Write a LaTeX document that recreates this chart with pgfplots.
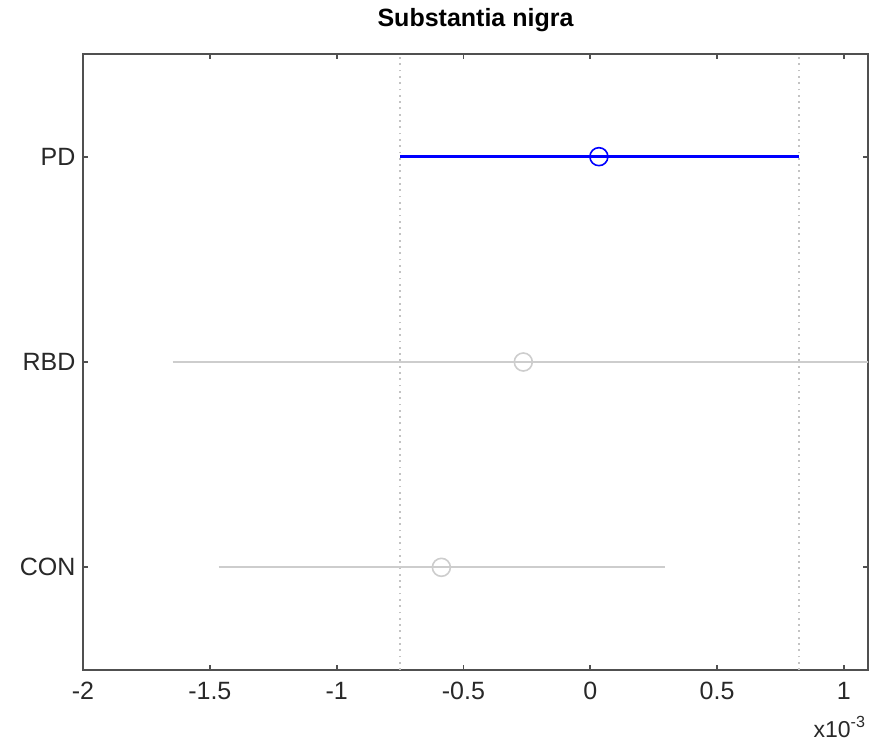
\documentclass[border=0pt]{standalone}
\usepackage{fontspec}
\setmainfont{Liberation Sans}
\usepackage{pgfplots}
\pgfplotsset{compat=1.18}
\definecolor{axgray}{RGB}{80,80,80}
\definecolor{txtgray}{RGB}{40,40,40}
\definecolor{bargray}{RGB}{205,205,205}
\definecolor{dotgray}{RGB}{195,195,195}
\begin{document}
\begin{tikzpicture}
\begin{axis}[
    name=ax,
    at={(0,0)}, anchor=south west,
    width=785pt, height=616pt,
    scale only axis,
    xmin=-2, xmax=1.095,
    ymin=0.5, ymax=3.5,
    xtick={-2,-1.5,-1,-0.5,0,0.5,1},
    xticklabels={-2,-1.5,-1,-0.5,0,0.5,1},
    ytick={1,2,3},
    yticklabels={CON,RBD,PD},
    tick align=inside,
    major tick length=5pt,
    axis line style={axgray, line width=1.8pt},
    every tick/.style={axgray, line width=1.8pt},
    tick label style={font=\fontsize{25}{28}\selectfont, text=txtgray},
    xticklabel style={yshift=-9pt},
    yticklabel style={xshift=-4pt},
    /pgf/number format/assume math mode=true,
    clip=true,
]
% dotted lines at the PD interval limits
\addplot[dotgray, line width=1.8pt, dash pattern=on 1.8pt off 4.5pt] coordinates {(-0.751,0.5) (-0.751,3.5)};
\addplot[dotgray, line width=1.8pt, dash pattern=on 1.8pt off 4.5pt] coordinates {(0.823,0.5) (0.823,3.5)};
% CON
\addplot[bargray, line width=2.2pt] coordinates {(-1.465,1) (0.295,1)};
\addplot[bargray, line width=1.6pt, only marks, mark=o, mark size=9pt] coordinates {(-0.587,1)};
% RBD
\addplot[bargray, line width=2.2pt] coordinates {(-1.647,2) (1.119,2)};
\addplot[bargray, line width=1.6pt, only marks, mark=o, mark size=9pt] coordinates {(-0.264,2)};
% PD
\addplot[blue, line width=3pt] coordinates {(-0.751,3) (0.823,3)};
\addplot[blue, line width=1.6pt, only marks, mark=o, mark size=9pt] coordinates {(0.034,3)};
\end{axis}
\node[font=\bfseries\fontsize{25}{28}\selectfont, text=black] at ([yshift=34pt]ax.north) {Substantia nigra};
\node[font=\fontsize{23}{26}\selectfont, text=txtgray, anchor=east] at ([yshift=-57pt,xshift=1pt]ax.south east) {x10\textsuperscript{-3}};
\pgfresetboundingbox
\path ([xshift=-83pt,yshift=-75pt]ax.south west) rectangle ([xshift=2pt,yshift=54pt]ax.north east);
\end{tikzpicture}
\end{document}
